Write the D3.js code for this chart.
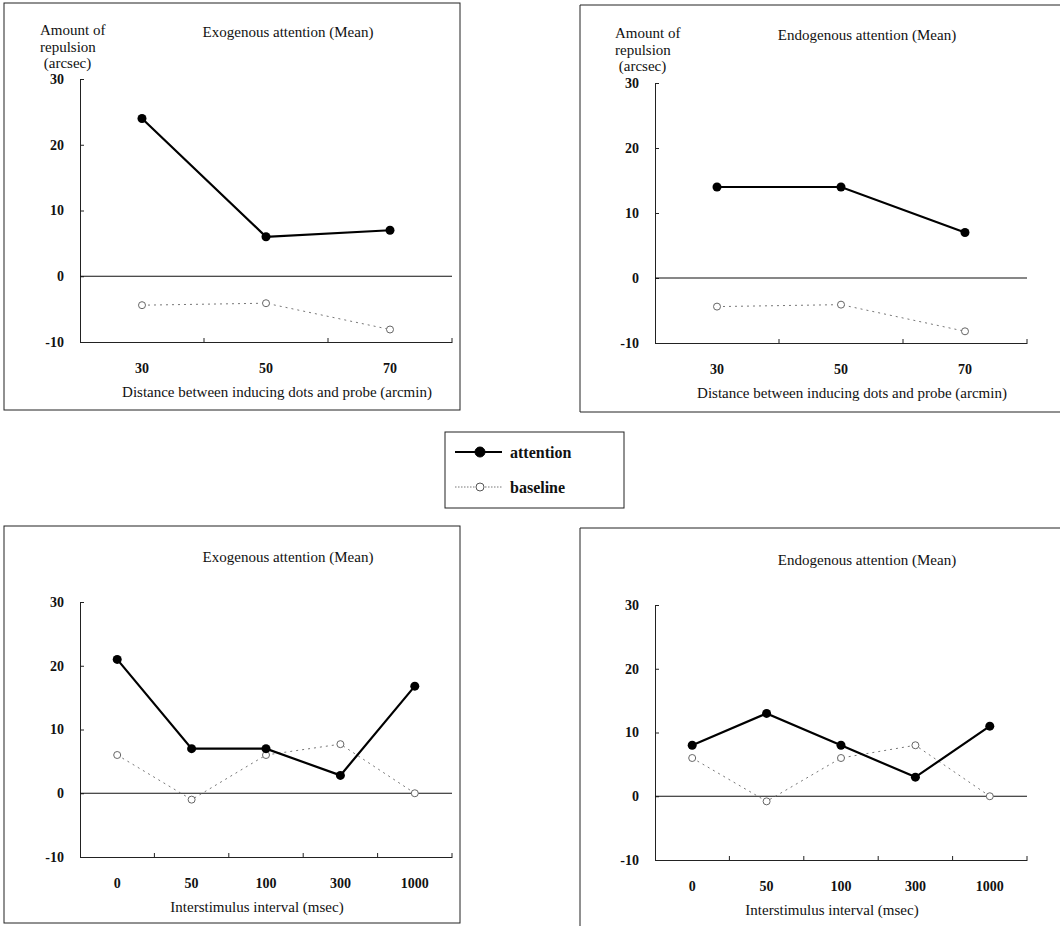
<!DOCTYPE html>
<html><head><meta charset="utf-8">
<script src="https://cdn.jsdelivr.net/npm/d3@7"></script>
<style>
body{margin:0;background:#fff;}
svg{display:block;}
text{font-family:"Liberation Serif","Times New Roman",serif;fill:#111;}
</style></head>
<body>
<svg id="c" width="1064" height="926"></svg>
<script>
// ---- data ----
const distCategories = ["30", "50", "70"];
const isiCategories = ["0", "50", "100", "300", "1000"];
const yTicks = [-10, 0, 10, 20, 30];
const yTickLabels = ["-10", "0", "10", "20", "30"];

const exoDistAttention = [24, 6, 7];
const exoDistBaseline = [-4.4, -4.1, -8.1];
const endoDistAttention = [14, 14, 7];
const endoDistBaseline = [-4.4, -4.1, -8.2];

const exoIsiAttention = [21, 7, 7, 2.8, 16.8];
const exoIsiBaseline = [6, -1, 6, 7.7, 0];
const endoIsiAttention = [8, 13, 8, 3, 11];
const endoIsiBaseline = [6, -0.8, 6, 8, 0];

const titles = ["Exogenous attention (Mean)", "Endogenous attention (Mean)"];
const xTitles = ["Distance between inducing dots and probe (arcmin)", "Interstimulus interval (msec)"];
const yTitleLines = ["Amount of", "repulsion", " (arcsec)"];
const legendLabels = ["attention", "baseline"];

// ---- layout ----
const svg = d3.select("#c");

const panels = [
  {cats: distCategories, att: exoDistAttention, base: exoDistBaseline, title: titles[0], xTitle: xTitles[0],
   x0: 80, x1: 452, yTop: 79, yBot: 342, frame: {l: 4, t: 3, r: 460, b: 410, closed: true},
   titleX: 288, titleY: 37, xTitleX: 277, xTitleY: 397, yLabel: true, yLabelX: 40, yLabelY: 35},
  {cats: distCategories, att: endoDistAttention, base: endoDistBaseline, title: titles[1], xTitle: xTitles[0],
   x0: 655, x1: 1027, yTop: 83, yBot: 343, frame: {l: 580, t: 5, r: 1060, b: 412, closed: false},
   titleX: 867, titleY: 40, xTitleX: 852, xTitleY: 398, yLabel: true, yLabelX: 615, yLabelY: 38},
  {cats: isiCategories, att: exoIsiAttention, base: exoIsiBaseline, title: titles[0], xTitle: xTitles[1],
   x0: 80, x1: 452, yTop: 602, yBot: 857, frame: {l: 4, t: 526, r: 460, b: 923, closed: true},
   titleX: 288, titleY: 562, xTitleX: 257, xTitleY: 912, yLabel: false},
  {cats: isiCategories, att: endoIsiAttention, base: endoIsiBaseline, title: titles[1], xTitle: xTitles[1],
   x0: 655, x1: 1027, yTop: 605, yBot: 860, frame: {l: 580, t: 528, r: 1060, b: 940, closed: false},
   titleX: 867, titleY: 565, xTitleX: 832, xTitleY: 915, yLabel: false}
];

panels.forEach(p => {
  const g = svg.append("g");
  // frame
  const f = p.frame;
  if (f.closed) {
    g.append("rect").attr("x", f.l).attr("y", f.t).attr("width", f.r - f.l).attr("height", f.b - f.t)
      .attr("fill", "none").attr("stroke", "#222").attr("stroke-width", 1);
  } else {
    g.append("path").attr("d", `M${f.r},${f.t}H${f.l}V${f.b}H${f.r}`)
      .attr("fill", "none").attr("stroke", "#222").attr("stroke-width", 1);
  }

  const x = d3.scaleBand().domain(p.cats).range([p.x0, p.x1]).paddingInner(0).paddingOuter(0);
  const y = d3.scaleLinear().domain([-10, 30]).range([p.yBot, p.yTop]);

  // y axis
  const ya = g.append("g").attr("transform", `translate(${p.x0},0)`)
    .call(d3.axisLeft(y).tickValues(yTicks).tickSizeInner(-4).tickSizeOuter(0).tickPadding(16)
      .tickFormat(d => yTickLabels[yTicks.indexOf(d)]));
  ya.select(".domain").attr("stroke", "#222");
  ya.selectAll(".tick line").attr("stroke", "#222");
  ya.selectAll("text").style("font-family", "Liberation Serif").style("font-size", "14px").style("font-weight", "bold").attr("fill", "#111");

  // x axis (labels at band centres)
  const xa = g.append("g").attr("transform", `translate(0,${p.yBot})`)
    .call(d3.axisBottom(x).tickSize(0).tickPadding(21));
  xa.select(".domain").attr("stroke", "#222").attr("stroke-width", 1.2);
  xa.selectAll("text").style("font-family", "Liberation Serif").style("font-size", "14px").style("font-weight", "bold").attr("fill", "#111");
  // category boundary ticks
  g.selectAll(".btick").data(p.cats).join("line")
    .attr("x1", d => x(d) + x.bandwidth()).attr("x2", d => x(d) + x.bandwidth())
    .attr("y1", p.yBot).attr("y2", p.yBot - 4).attr("stroke", "#222");

  // zero line
  g.append("line").attr("x1", p.x0).attr("x2", p.x1).attr("y1", y(0)).attr("y2", y(0))
    .attr("stroke", "#111").attr("stroke-width", 1.2);

  const cx = (d, i) => x(p.cats[i]) + x.bandwidth() / 2;
  const line = d3.line().x((d, i) => cx(d, i)).y(d => y(d));

  // baseline series
  g.append("path").datum(p.base).attr("d", line).attr("fill", "none")
    .attr("stroke", "#777").attr("stroke-width", 1).attr("stroke-dasharray", "2,4");
  g.selectAll(".bdot").data(p.base).join("circle")
    .attr("cx", cx).attr("cy", d => y(d)).attr("r", 3.5)
    .attr("fill", "#fff").attr("stroke", "#666").attr("stroke-width", 1);

  // attention series
  g.append("path").datum(p.att).attr("d", line).attr("fill", "none")
    .attr("stroke", "#000").attr("stroke-width", 2.2);
  g.selectAll(".adot").data(p.att).join("circle")
    .attr("cx", cx).attr("cy", d => y(d)).attr("r", 4.5).attr("fill", "#000");

  // titles
  g.append("text").attr("x", p.titleX).attr("y", p.titleY).attr("text-anchor", "middle")
    .style("font-size", "15px").text(p.title);
  g.append("text").attr("x", p.xTitleX).attr("y", p.xTitleY).attr("text-anchor", "middle")
    .style("font-size", "15px").text(p.xTitle);
  if (p.yLabel) {
    g.selectAll(".yl").data(yTitleLines).join("text")
      .attr("x", p.yLabelX).attr("y", (d, i) => p.yLabelY + i * 16.5)
      .style("font-size", "15px").style("white-space", "pre").attr("xml:space", "preserve").text(d => d);
  }
});

// ---- legend ----
const lg = svg.append("g");
lg.append("rect").attr("x", 445).attr("y", 432).attr("width", 179).attr("height", 76)
  .attr("fill", "#fff").attr("stroke", "#222").attr("stroke-width", 1);
const legendRows = [
  {label: legendLabels[0], y: 452, stroke: "#000", sw: 2.2, dash: null, r: 5, fill: "#000", cstroke: "#000"},
  {label: legendLabels[1], y: 487, stroke: "#777", sw: 1, dash: "1.5,1.5", r: 4, fill: "#fff", cstroke: "#555"}
];
legendRows.forEach(r => {
  lg.append("line").attr("x1", 455).attr("x2", 502).attr("y1", r.y).attr("y2", r.y)
    .attr("stroke", r.stroke).attr("stroke-width", r.sw).attr("stroke-dasharray", r.dash);
  lg.append("circle").attr("cx", 480).attr("cy", r.y).attr("r", r.r).attr("fill", r.fill)
    .attr("stroke", r.cstroke).attr("stroke-width", 1);
  lg.append("text").attr("x", 510).attr("y", r.y + 6).style("font-size", "16px").style("font-weight", "bold").text(r.label);
});
</script>
</body></html>
